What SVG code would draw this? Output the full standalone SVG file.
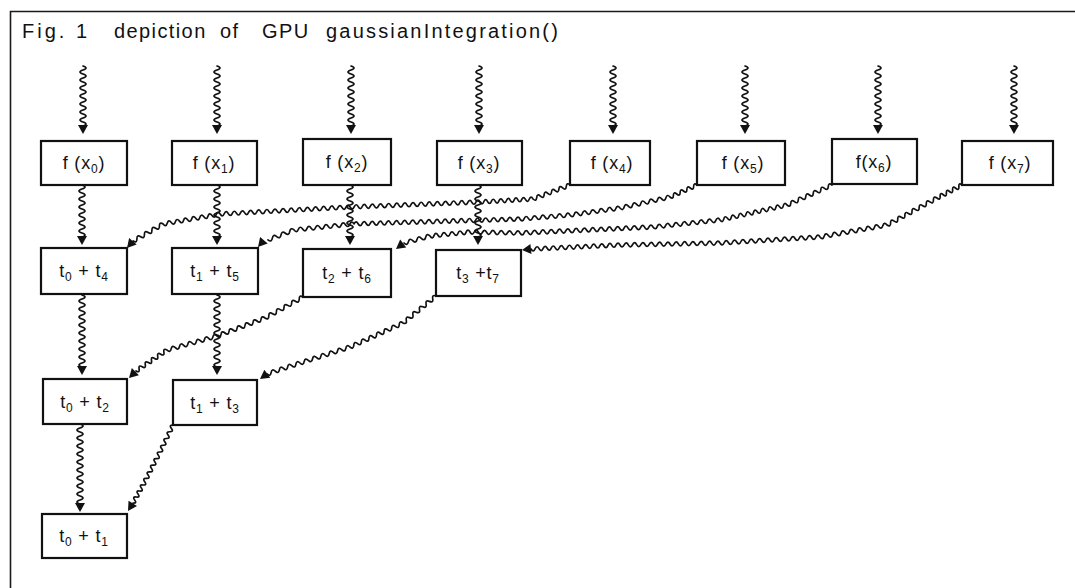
<svg xmlns="http://www.w3.org/2000/svg" xmlns:xlink="http://www.w3.org/1999/xlink" width="1075" height="588" viewBox="0 0 1075 588">
<style>
.frame{fill:none;stroke:#1a1a1a;stroke-width:1.6}
.box{fill:#fff;stroke:#111;stroke-width:2.2}
.wv{fill:none;stroke:#111;stroke-width:1.7;stroke-linejoin:round;stroke-linecap:round}
.ah{fill:#111}
.lbl{font-family:"Liberation Sans",Arial,sans-serif;font-size:18px;fill:#111;text-anchor:middle;letter-spacing:0.8px}
.sub{font-size:12px}
.title{font-family:"Liberation Sans",Arial,sans-serif;font-size:20px;fill:#111;letter-spacing:1.4px}
</style>
<defs>
<path id="ah" d="M0,0 L-9,-5 L-9,5 Z"/>
<path id="vw60" d="M0,0 q6,2 0,4 t0,4 0,4 0,4 0,4 0,4 0,4 0,4 0,4 0,4 0,4 0,4 0,4 0,4 0,4"/>
<path id="vw52" d="M0,0 q6,2 0,4 t0,4 0,4 0,4 0,4 0,4 0,4 0,4 0,4 0,4 0,4 0,4 0,4"/>
<path id="vw72" d="M0,0 q6,2 0,4 t0,4 0,4 0,4 0,4 0,4 0,4 0,4 0,4 0,4 0,4 0,4 0,4 0,4 0,4 0,4 0,4 0,4"/>
<path id="vw80" d="M0,0 q6,2 0,4 t0,4 0,4 0,4 0,4 0,4 0,4 0,4 0,4 0,4 0,4 0,4 0,4 0,4 0,4 0,4 0,4 0,4 0,4 0,4"/>
</defs>
<rect width="1075" height="588" fill="#fff"/>
<path class="frame" d="M10.5,588 V11.5 H1075"/>
<text class="title" y="38"><tspan x="22" letter-spacing="3">Fig. 1</tspan><tspan x="114">depiction</tspan><tspan x="220">of</tspan><tspan x="262">GPU</tspan><tspan x="326" letter-spacing="2.2">gaussianIntegration()</tspan></text>

<g id="connectors">
<g class="wv">
<use href="#vw60" x="83" y="66"/>
<use href="#vw60" x="217" y="66"/>
<use href="#vw60" x="351" y="66"/>
<use href="#vw60" x="479" y="66"/>
<use href="#vw60" x="613" y="66"/>
<use href="#vw60" x="745" y="66"/>
<use href="#vw60" x="878" y="66"/>
<use href="#vw60" x="1014" y="66"/>
<use href="#vw52" x="82" y="185"/>
<use href="#vw52" x="217" y="185"/>
<use href="#vw52" x="350" y="185"/>
<use href="#vw52" x="478" y="185"/>
<use href="#vw72" x="82" y="295"/>
<use href="#vw72" x="217" y="295"/>
<use href="#vw80" x="80" y="424"/>
<path id="c-f4" d="M570,185 q-3.27,-3.04 -3.7,1.4 t-3.7,1.4 -3.7,1.4 -3.7,1.4 -3.7,1.4 -3.7,1.4 -3.7,1.4 -3.7,1.4 -3.7,1.4 -3.7,1.4
q-2.12,-3.89 -3.786,0.214 t-3.786,0.214 -3.786,0.214 -3.786,0.214 -3.786,0.214 -3.786,0.214 -3.786,0.214 -3.786,0.214 -3.786,0.214 -3.786,0.214 -3.786,0.214 -3.786,0.214 -3.786,0.214 -3.786,0.214
q-2.19,-3.92 -4.06,0.156 t-4.06,0.156 -4.06,0.156 -4.06,0.156 -4.06,0.156 -4.06,0.156 -4.06,0.156 -4.06,0.156 -4.06,0.156 -4.06,0.156 -4.06,0.156 -4.06,0.156 -4.06,0.156 -4.06,0.156 -4.06,0.156 -4.06,0.156 -4.06,0.156 -4.06,0.156 -4.06,0.156 -4.06,0.156 -4.06,0.156 -4.06,0.156 -4.06,0.156 -4.06,0.156 -4.06,0.156 -4.06,0.156 -4.06,0.156 -4.06,0.156 -4.06,0.156 -4.06,0.156 -4.06,0.156 -4.06,0.156
q-2.25,-3.89 -4.06,0.219 t-4.06,0.219 -4.06,0.219 -4.06,0.219 -4.06,0.219 -4.06,0.219 -4.06,0.219 -4.06,0.219 -4.06,0.219 -4.06,0.219 -4.06,0.219 -4.06,0.219 -4.06,0.219 -4.06,0.219 -4.06,0.219 -4.06,0.219 -4.06,0.219 -4.06,0.219 -4.06,0.219 -4.06,0.219 -4.06,0.219 -4.06,0.219 -4.06,0.219 -4.06,0.219 -4.06,0.219 -4.06,0.219 -4.06,0.219 -4.06,0.219 -4.06,0.219 -4.06,0.219 -4.06,0.219 -4.06,0.219
q-2.73,-3.58 -4.071,0.714 t-4.071,0.714 -4.071,0.714 -4.071,0.714 -4.071,0.714 -4.071,0.714 -4.071,0.714 -4.071,0.714 -4.071,0.714 -4.071,0.714 -4.071,0.714 -4.071,0.714 -4.071,0.714 -4.071,0.714
q-3.85,-2.42 -3.75,2.125 t-3.75,2.125 -3.75,2.125 -3.75,2.125 -3.75,2.125 -3.75,2.125 -3.75,2.125 -3.75,2.125"/>
<path id="c-f5" d="M697,185 q-3.31,-2.91 -3.375,1.5 t-3.375,1.5 -3.375,1.5 -3.375,1.5 -3.375,1.5 -3.375,1.5 -3.375,1.5 -3.375,1.5
q-2.94,-3.45 -4.167,0.917 t-4.167,0.917 -4.167,0.917 -4.167,0.917 -4.167,0.917 -4.167,0.917 -4.167,0.917 -4.167,0.917 -4.167,0.917 -4.167,0.917 -4.167,0.917 -4.167,0.917
q-2.64,-3.67 -4.167,0.583 t-4.167,0.583 -4.167,0.583 -4.167,0.583 -4.167,0.583 -4.167,0.583 -4.167,0.583 -4.167,0.583 -4.167,0.583 -4.167,0.583 -4.167,0.583 -4.167,0.583
q-2.40,-3.82 -4.167,0.333 t-4.167,0.333 -4.167,0.333 -4.167,0.333 -4.167,0.333 -4.167,0.333 -4.167,0.333 -4.167,0.333 -4.167,0.333 -4.167,0.333 -4.167,0.333 -4.167,0.333
q-2.14,-3.94 -4.048,0.119 t-4.048,0.119 -4.048,0.119 -4.048,0.119 -4.048,0.119 -4.048,0.119 -4.048,0.119 -4.048,0.119 -4.048,0.119 -4.048,0.119 -4.048,0.119 -4.048,0.119 -4.048,0.119 -4.048,0.119 -4.048,0.119 -4.048,0.119 -4.048,0.119 -4.048,0.119 -4.048,0.119 -4.048,0.119 -4.048,0.119 -4.048,0.119 -4.048,0.119 -4.048,0.119 -4.048,0.119 -4.048,0.119 -4.048,0.119 -4.048,0.119 -4.048,0.119 -4.048,0.119 -4.048,0.119 -4.048,0.119 -4.048,0.119 -4.048,0.119 -4.048,0.119 -4.048,0.119 -4.048,0.119 -4.048,0.119 -4.048,0.119 -4.048,0.119 -4.048,0.119
q-2.54,-3.77 -4.286,0.429 t-4.286,0.429 -4.286,0.429 -4.286,0.429 -4.286,0.429 -4.286,0.429 -4.286,0.429 -4.286,0.429 -4.286,0.429 -4.286,0.429 -4.286,0.429 -4.286,0.429 -4.286,0.429 -4.286,0.429
q-3.60,-2.90 -4.333,1.667 t-4.333,1.667 -4.333,1.667 -4.333,1.667 -4.333,1.667 -4.333,1.667"/>
<path id="c-f6" d="M832,185 q-3.50,-2.82 -3.75,1.667 t-3.75,1.667 -3.75,1.667 -3.75,1.667 -3.75,1.667 -3.75,1.667 -3.75,1.667 -3.75,1.667 -3.75,1.667 -3.75,1.667 -3.75,1.667 -3.75,1.667
q-2.74,-3.49 -3.722,0.833 t-3.722,0.833 -3.722,0.833 -3.722,0.833 -3.722,0.833 -3.722,0.833 -3.722,0.833 -3.722,0.833 -3.722,0.833 -3.722,0.833 -3.722,0.833 -3.722,0.833 -3.722,0.833 -3.722,0.833 -3.722,0.833 -3.722,0.833 -3.722,0.833 -3.722,0.833
q-2.51,-3.76 -4.1875,0.4375 t-4.1875,0.4375 -4.1875,0.4375 -4.1875,0.4375 -4.1875,0.4375 -4.1875,0.4375 -4.1875,0.4375 -4.1875,0.4375 -4.1875,0.4375 -4.1875,0.4375 -4.1875,0.4375 -4.1875,0.4375 -4.1875,0.4375 -4.1875,0.4375 -4.1875,0.4375 -4.1875,0.4375
q-2.25,-3.90 -4.156,0.1875 t-4.156,0.1875 -4.156,0.1875 -4.156,0.1875 -4.156,0.1875 -4.156,0.1875 -4.156,0.1875 -4.156,0.1875 -4.156,0.1875 -4.156,0.1875 -4.156,0.1875 -4.156,0.1875 -4.156,0.1875 -4.156,0.1875 -4.156,0.1875 -4.156,0.1875 -4.156,0.1875 -4.156,0.1875 -4.156,0.1875 -4.156,0.1875 -4.156,0.1875 -4.156,0.1875 -4.156,0.1875 -4.156,0.1875 -4.156,0.1875 -4.156,0.1875 -4.156,0.1875 -4.156,0.1875 -4.156,0.1875 -4.156,0.1875 -4.156,0.1875 -4.156,0.1875
q-2.00,-4.04 -4.167,-0.083 t-4.167,-0.083 -4.167,-0.083 -4.167,-0.083 -4.167,-0.083 -4.167,-0.083 -4.167,-0.083 -4.167,-0.083 -4.167,-0.083 -4.167,-0.083 -4.167,-0.083 -4.167,-0.083
q-2.40,-3.78 -4,0.4 t-4,0.4 -4,0.4 -4,0.4 -4,0.4 -4,0.4 -4,0.4 -4,0.4 -4,0.4 -4,0.4
q-3.21,-3.28 -4.333,1.167 t-4.333,1.167 -4.333,1.167 -4.333,1.167 -4.333,1.167 -4.333,1.167"/>
<path id="c-f7" d="M962,185 q-3.41,-2.74 -3.125,1.625 t-3.125,1.625 -3.125,1.625 -3.125,1.625 -3.125,1.625 -3.125,1.625 -3.125,1.625 -3.125,1.625
q-3.69,-2.56 -3.571,1.929 t-3.571,1.929 -3.571,1.929 -3.571,1.929 -3.571,1.929 -3.571,1.929 -3.571,1.929 -3.571,1.929 -3.571,1.929 -3.571,1.929 -3.571,1.929 -3.571,1.929 -3.571,1.929 -3.571,1.929
q-2.80,-3.56 -4.1875,0.75 t-4.1875,0.75 -4.1875,0.75 -4.1875,0.75 -4.1875,0.75 -4.1875,0.75 -4.1875,0.75 -4.1875,0.75 -4.1875,0.75 -4.1875,0.75 -4.1875,0.75 -4.1875,0.75 -4.1875,0.75 -4.1875,0.75 -4.1875,0.75 -4.1875,0.75
q-2.32,-3.87 -4.167,0.25 t-4.167,0.25 -4.167,0.25 -4.167,0.25 -4.167,0.25 -4.167,0.25 -4.167,0.25 -4.167,0.25 -4.167,0.25 -4.167,0.25 -4.167,0.25 -4.167,0.25 -4.167,0.25 -4.167,0.25 -4.167,0.25 -4.167,0.25 -4.167,0.25 -4.167,0.25 -4.167,0.25 -4.167,0.25 -4.167,0.25 -4.167,0.25 -4.167,0.25 -4.167,0.25
q-2.16,-3.96 -4.167,0.083 t-4.167,0.083 -4.167,0.083 -4.167,0.083 -4.167,0.083 -4.167,0.083 -4.167,0.083 -4.167,0.083 -4.167,0.083 -4.167,0.083 -4.167,0.083 -4.167,0.083 -4.167,0.083 -4.167,0.083 -4.167,0.083 -4.167,0.083 -4.167,0.083 -4.167,0.083 -4.167,0.083 -4.167,0.083 -4.167,0.083 -4.167,0.083 -4.167,0.083 -4.167,0.083
q-2.20,-3.91 -4.045,0.182 t-4.045,0.182 -4.045,0.182 -4.045,0.182 -4.045,0.182 -4.045,0.182 -4.045,0.182 -4.045,0.182 -4.045,0.182 -4.045,0.182 -4.045,0.182 -4.045,0.182 -4.045,0.182 -4.045,0.182 -4.045,0.182 -4.045,0.182 -4.045,0.182 -4.045,0.182 -4.045,0.182 -4.045,0.182 -4.045,0.182 -4.045,0.182"/>
<path id="c-t26" d="M303,297 q-3.83,-2.45 -3.8,2.1 t-3.8,2.1 -3.8,2.1 -3.8,2.1 -3.8,2.1 -3.8,2.1 -3.8,2.1 -3.8,2.1 -3.8,2.1 -3.8,2.1
q-3.40,-3.00 -4,1.5 t-4,1.5 -4,1.5 -4,1.5 -4,1.5 -4,1.5 -4,1.5 -4,1.5 -4,1.5 -4,1.5 -4,1.5 -4,1.5
q-3.16,-3.27 -4.167,1.167 t-4.167,1.167 -4.167,1.167 -4.167,1.167 -4.167,1.167 -4.167,1.167 -4.167,1.167 -4.167,1.167 -4.167,1.167 -4.167,1.167 -4.167,1.167 -4.167,1.167
q-3.79,-2.26 -3.1,2.1 t-3.1,2.1 -3.1,2.1 -3.1,2.1 -3.1,2.1 -3.1,2.1 -3.1,2.1 -3.1,2.1 -3.1,2.1 -3.1,2.1"/>
<path id="c-t37" d="M436,296 q-4.18,-1.75 -3.3,2.7 t-3.3,2.7 -3.3,2.7 -3.3,2.7 -3.3,2.7 -3.3,2.7 -3.3,2.7 -3.3,2.7 -3.3,2.7 -3.3,2.7
q-3.54,-2.79 -3.786,1.714 t-3.786,1.714 -3.786,1.714 -3.786,1.714 -3.786,1.714 -3.786,1.714 -3.786,1.714 -3.786,1.714 -3.786,1.714 -3.786,1.714 -3.786,1.714 -3.786,1.714 -3.786,1.714 -3.786,1.714
q-3.30,-3.14 -4.167,1.333 t-4.167,1.333 -4.167,1.333 -4.167,1.333 -4.167,1.333 -4.167,1.333 -4.167,1.333 -4.167,1.333 -4.167,1.333 -4.167,1.333 -4.167,1.333 -4.167,1.333
q-3.33,-3.11 -4.125,1.375 t-4.125,1.375 -4.125,1.375 -4.125,1.375 -4.125,1.375 -4.125,1.375 -4.125,1.375 -4.125,1.375"/>
<path id="c-t13" d="M173,425 q-4.42,-0.05 -1.625,3.375 t-1.625,3.375 -1.625,3.375 -1.625,3.375 -1.625,3.375 -1.625,3.375 -1.625,3.375 -1.625,3.375
q-4.41,-0.18 -1.7,3.3 t-1.7,3.3 -1.7,3.3 -1.7,3.3 -1.7,3.3 -1.7,3.3 -1.7,3.3 -1.7,3.3 -1.7,3.3 -1.7,3.3
q-4.33,-0.44 -1.667,3 t-1.667,3 -1.667,3 -1.667,3 -1.667,3 -1.667,3"/>
</g>
<g class="ah">
<use href="#ah" transform="translate(83,134) rotate(90)"/>
<use href="#ah" transform="translate(217,134) rotate(90)"/>
<use href="#ah" transform="translate(351,134) rotate(90)"/>
<use href="#ah" transform="translate(479,134) rotate(90)"/>
<use href="#ah" transform="translate(613,134) rotate(90)"/>
<use href="#ah" transform="translate(745,134) rotate(90)"/>
<use href="#ah" transform="translate(878,134) rotate(90)"/>
<use href="#ah" transform="translate(1014,134) rotate(90)"/>
<use href="#ah" transform="translate(82,245) rotate(90)"/>
<use href="#ah" transform="translate(217,245) rotate(90)"/>
<use href="#ah" transform="translate(350,245) rotate(90)"/>
<use href="#ah" transform="translate(478,245) rotate(90)"/>
<use href="#ah" transform="translate(82,375) rotate(90)"/>
<use href="#ah" transform="translate(217,375) rotate(90)"/>
<use href="#ah" transform="translate(80,512) rotate(90)"/>
<use href="#ah" transform="translate(127,248) rotate(131)"/>
<use href="#ah" transform="translate(258,247) rotate(131)"/>
<use href="#ah" transform="translate(396,249) rotate(143)"/>
<use href="#ah" transform="translate(522,250) rotate(174)"/>
<use href="#ah" transform="translate(129,378) rotate(135)"/>
<use href="#ah" transform="translate(260,379) rotate(144)"/>
<use href="#ah" transform="translate(128,511) rotate(122)"/>
</g>
</g>

<g id="f0"><rect class="box" x="41" y="141" width="86" height="44"/><text class="lbl" x="84" y="169">f (x<tspan class="sub" dy="4">0</tspan><tspan dy="-4">)</tspan></text></g>
<g id="f1"><rect class="box" x="172" y="141" width="85" height="44"/><text class="lbl" x="214" y="169">f (x<tspan class="sub" dy="4">1</tspan><tspan dy="-4">)</tspan></text></g>
<g id="f2"><rect class="box" x="303" y="139" width="88" height="46"/><text class="lbl" x="347" y="168">f (x<tspan class="sub" dy="4">2</tspan><tspan dy="-4">)</tspan></text></g>
<g id="f3"><rect class="box" x="437" y="141" width="85" height="44"/><text class="lbl" x="479" y="169">f (x<tspan class="sub" dy="4">3</tspan><tspan dy="-4">)</tspan></text></g>
<g id="f4"><rect class="box" x="570" y="141" width="80" height="44"/><text class="lbl" x="612" y="169">f (x<tspan class="sub" dy="4">4</tspan><tspan dy="-4">)</tspan></text></g>
<g id="f5"><rect class="box" x="697" y="141" width="88" height="44"/><text class="lbl" x="743" y="169">f (x<tspan class="sub" dy="4">5</tspan><tspan dy="-4">)</tspan></text></g>
<g id="f6"><rect class="box" x="832" y="139" width="85" height="45"/><text class="lbl" x="874" y="168">f(x<tspan class="sub" dy="4">6</tspan><tspan dy="-4">)</tspan></text></g>
<g id="f7"><rect class="box" x="962" y="141" width="91" height="44"/><text class="lbl" x="1010" y="169">f (x<tspan class="sub" dy="4">7</tspan><tspan dy="-4">)</tspan></text></g>

<g id="t04"><rect class="box" x="41" y="248" width="86" height="46"/><text class="lbl" x="84" y="277">t<tspan class="sub" dy="4">0</tspan><tspan dy="-4"> + t</tspan><tspan class="sub" dy="4">4</tspan></text></g>
<g id="t15"><rect class="box" x="172" y="248" width="86" height="46"/><text class="lbl" x="215" y="277">t<tspan class="sub" dy="4">1</tspan><tspan dy="-4"> + t</tspan><tspan class="sub" dy="4">5</tspan></text></g>
<g id="t26"><rect class="box" x="303" y="249" width="88" height="48"/><text class="lbl" x="347" y="279">t<tspan class="sub" dy="4">2</tspan><tspan dy="-4"> + t</tspan><tspan class="sub" dy="4">6</tspan></text></g>
<g id="t37"><rect class="box" x="436" y="250" width="85" height="46"/><text class="lbl" x="478" y="279">t<tspan class="sub" dy="4">3</tspan><tspan dy="-4"> +t</tspan><tspan class="sub" dy="4">7</tspan></text></g>

<g id="t02"><rect class="box" x="43" y="379" width="84" height="45"/><text class="lbl" x="85" y="408">t<tspan class="sub" dy="4">0</tspan><tspan dy="-4"> + t</tspan><tspan class="sub" dy="4">2</tspan></text></g>
<g id="t13"><rect class="box" x="173" y="380" width="84" height="45"/><text class="lbl" x="215" y="409">t<tspan class="sub" dy="4">1</tspan><tspan dy="-4"> + t</tspan><tspan class="sub" dy="4">3</tspan></text></g>

<g id="t01"><rect class="box" x="42" y="514" width="85" height="44"/><text class="lbl" x="84" y="542">t<tspan class="sub" dy="4">0</tspan><tspan dy="-4"> + t</tspan><tspan class="sub" dy="4">1</tspan></text></g>
</svg>
